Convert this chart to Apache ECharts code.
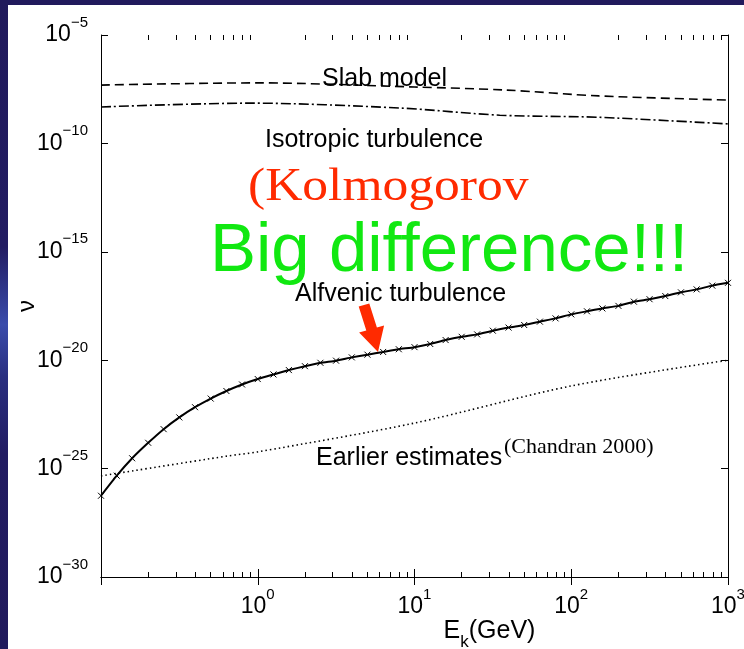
<!DOCTYPE html>
<html>
<head>
<meta charset="utf-8">
<script src="https://cdn.jsdelivr.net/npm/echarts@6/dist/echarts.min.js"></script>
<style>
  html, body { margin: 0; padding: 0; width: 744px; height: 649px; overflow: hidden;
    background: linear-gradient(to bottom, #211a5c 0%, #221c62 38%, #3a4cab 50%, #2a2f80 58%, #221c62 70%, #211a5c 100%); }
  #chart { position: absolute; left: 8px; top: 5px; width: 736px; height: 644px; background: #ffffff; }
</style>
</head>
<body>
<div id="chart"></div>
<script>
// ---- data ----
const energies = [0.1, 0.126, 0.158, 0.2, 0.251, 0.316, 0.398, 0.501, 0.631, 0.794,
  1, 1.26, 1.58, 2, 2.51, 3.16, 3.98, 5.01, 6.31, 7.94,
  10, 12.6, 15.8, 20, 25.1, 31.6, 39.8, 50.1, 63.1, 79.4,
  100, 126, 158, 200, 251, 316, 398, 501, 631, 794, 1000];
const alfvenic = [5.6e-27, 4.7e-26, 3.0e-25, 1.55e-24, 6.6e-24, 2.3e-23, 6.8e-23, 1.7e-22, 3.8e-22, 7.6e-22,
  1.35e-21, 2.2e-21, 3.5e-21, 5.3e-21, 7.6e-21, 9.5e-21, 1.35e-20, 1.8e-20, 2.4e-20, 3.2e-20,
  4.0e-20, 5.6e-20, 8.5e-20, 1.2e-19, 1.55e-19, 2.3e-19, 3.2e-19, 4.2e-19, 6.0e-19, 8.5e-19,
  1.3e-18, 1.8e-18, 2.45e-18, 3.2e-18, 5.0e-18, 6.5e-18, 9.1e-18, 1.35e-17, 1.85e-17, 2.75e-17, 3.7e-17];
const slabE = [0.1, 1, 10, 38, 150, 1000];
const slabV = [4.9e-8, 6.2e-8, 4.0e-8, 2.9e-8, 1.55e-8, 1.0e-8];
const isoE = [0.1, 0.9, 8, 35, 150, 1000];
const isoV = [4.8e-9, 7.2e-9, 4.3e-9, 2.0e-9, 1.6e-9, 7.9e-10];
const earlierE = [0.1, 0.64, 1, 10, 100, 1000];
const earlierV = [4.6e-26, 3.8e-25, 5.9e-25, 1.26e-23, 6.5e-22, 1.0e-20];

const xMajorTicks = [0.1, 1, 10, 100, 1000];
const xMinorTicks = [0.2, 0.3, 0.4, 0.5, 0.6, 0.7, 0.8, 0.9,
  2, 3, 4, 5, 6, 7, 8, 9, 20, 30, 40, 50, 60, 70, 80, 90,
  200, 300, 400, 500, 600, 700, 800, 900];
const xLabelValues = [1, 10, 100, 1000];
const yTickValues = [1e-30, 1e-25, 1e-20, 1e-15, 1e-10, 1e-5];

// ---- chart ----
const SANS = '"Liberation Sans", Arial, Helvetica, sans-serif';
const SERIF = '"Liberation Serif", "Times New Roman", serif';
const zip = (a, b) => a.map((v, i) => [v, b[i]]);
const powLabel = v => {
  const e = Math.round(Math.log10(v));
  return '{b|10}{s|' + (e < 0 ? '\u2212' + (-e) : e) + '}';
};
const richPow = {
  b: { fontSize: 23, fontFamily: SANS, color: '#000', lineHeight: 40, verticalAlign: 'middle' },
  s: { fontSize: 15, fontFamily: SANS, color: '#000', lineHeight: 15, verticalAlign: 'top' }
};
const gridRect = { left: 93, top: 30, width: 627, height: 542, containLabel: false, outerBoundsMode: 'none' };
const lineBlack = { color: '#000', width: 1 };

const chart = echarts.init(document.getElementById('chart'), null, { renderer: 'canvas' });
chart.setOption({
  animation: false,
  backgroundColor: '#ffffff',
  grid: [Object.assign({}, gridRect), Object.assign({}, gridRect)],
  xAxis: [
    { gridIndex: 0, type: 'log', logBase: 10, min: 0.1, max: 1000, position: 'bottom',
      name: '{e|E}{k|k}{e|(GeV)}', nameLocation: 'middle', nameGap: 42, nameMoveOverlap: false,
      nameTextStyle: { padding: [0, 0, 0, 150], rich: {
        e: { fontSize: 25, fontFamily: SANS, color: '#000', lineHeight: 26, verticalAlign: 'top' },
        k: { fontSize: 17, fontFamily: SANS, color: '#000', lineHeight: 32, verticalAlign: 'bottom' } } },
      axisLine: { show: true, lineStyle: lineBlack },
      axisTick: { show: true, inside: true, length: 8, lineStyle: lineBlack, customValues: xMajorTicks },
      axisLabel: { show: true, margin: 10, customValues: xLabelValues, formatter: powLabel, rich: richPow,
        showMinLabel: true, showMaxLabel: true },
      splitLine: { show: false }, minorTick: { show: false } },
    { gridIndex: 0, type: 'log', logBase: 10, min: 0.1, max: 1000, position: 'top',
      axisLine: { show: true, lineStyle: lineBlack },
      axisTick: { show: true, inside: true, length: 8, lineStyle: lineBlack, customValues: xMajorTicks },
      axisLabel: { show: false }, splitLine: { show: false } },
    { gridIndex: 1, type: 'log', logBase: 10, min: 0.1, max: 1000, position: 'bottom',
      axisLine: { show: false },
      axisTick: { show: true, inside: true, length: 5, lineStyle: lineBlack, customValues: xMinorTicks },
      axisLabel: { show: false }, splitLine: { show: false } },
    { gridIndex: 1, type: 'log', logBase: 10, min: 0.1, max: 1000, position: 'top',
      axisLine: { show: false },
      axisTick: { show: true, inside: true, length: 5, lineStyle: lineBlack, customValues: xMinorTicks },
      axisLabel: { show: false }, splitLine: { show: false } }
  ],
  yAxis: [
    { gridIndex: 0, type: 'log', logBase: 10, min: 1e-30, max: 1e-5, position: 'left',
      name: '\u03bd', nameLocation: 'middle', nameGap: 62, nameRotate: 90, nameMoveOverlap: false,
      nameTextStyle: { fontSize: 24, fontFamily: SANS, color: '#000' },
      axisLine: { show: true, lineStyle: lineBlack },
      axisTick: { show: true, inside: true, length: 7, lineStyle: lineBlack, customValues: yTickValues },
      axisLabel: { show: true, margin: 13, customValues: yTickValues, formatter: powLabel, rich: richPow,
        showMinLabel: true, showMaxLabel: true },
      splitLine: { show: false } },
    { gridIndex: 0, type: 'log', logBase: 10, min: 1e-30, max: 1e-5, position: 'right',
      axisLine: { show: true, lineStyle: lineBlack },
      axisTick: { show: true, inside: true, length: 7, lineStyle: lineBlack, customValues: yTickValues },
      axisLabel: { show: false }, splitLine: { show: false } },
    { gridIndex: 1, type: 'log', logBase: 10, min: 1e-30, max: 1e-5, show: false }
  ],
  series: [
    { name: 'Slab model', type: 'line', xAxisIndex: 0, yAxisIndex: 0, data: zip(slabE, slabV),
      showSymbol: false, smooth: 0.3, lineStyle: { color: '#000', width: 1.6, type: [9, 5] }, z: 3 },
    { name: 'Isotropic turbulence', type: 'line', xAxisIndex: 0, yAxisIndex: 0, data: zip(isoE, isoV),
      showSymbol: false, smooth: 0.3, lineStyle: { color: '#000', width: 1.6, type: [10, 3, 2, 3] }, z: 3 },
    { name: 'Earlier estimates', type: 'line', xAxisIndex: 0, yAxisIndex: 0, data: zip(earlierE, earlierV),
      showSymbol: false, smooth: 0.3, lineStyle: { color: '#000', width: 1.6, type: [1.5, 3] }, z: 3 },
    { name: 'Alfvenic turbulence', type: 'line', xAxisIndex: 0, yAxisIndex: 0, data: zip(energies, alfvenic),
      symbol: 'path://M0,0L10,10M10,0L0,10', symbolSize: 6, showSymbol: true, showAllSymbol: true,
      smooth: 0.15,
      itemStyle: { color: '#000', borderColor: '#000', borderWidth: 1 },
      lineStyle: { color: '#000', width: 2 }, z: 4 }
  ],
  graphic: [
    { type: 'text', left: 314, top: 62, style: { text: 'Slab model', font: '25px ' + SANS, fill: '#000' }, z: 10 },
    { type: 'text', left: 257, top: 123, style: { text: 'Isotropic turbulence', font: '25px ' + SANS, fill: '#000' }, z: 10 },
    { type: 'text', left: 240, top: 160, style: { text: '(Kolmogorov', font: '46px ' + SERIF, fill: '#ff2a00' }, scaleX: 1.12, z: 10 },
    { type: 'text', left: 202, top: 212, style: { text: 'Big difference!!!', font: '69px ' + SANS, fill: '#11e811' }, z: 10 },
    { type: 'text', left: 287, top: 277, style: { text: 'Alfvenic turbulence', font: '25px ' + SANS, fill: '#000' }, z: 10 },
    { type: 'text', left: 308, top: 441, style: { text: 'Earlier estimates', font: '25px ' + SANS, fill: '#000' }, z: 10 },
    { type: 'text', left: 496, top: 431, style: { text: '(Chandran 2000)', font: '22px ' + SERIF, fill: '#000' }, z: 10 },
    { type: 'polygon', z: 10, shape: { points: [
        [350.7, 301.5], [361.3, 298.5], [368.9, 322.4], [376.1, 320.4], [370, 347],
        [351.1, 327.4], [358.3, 325.4] ] },
      style: { fill: '#ff2a00' } }
  ]
});
</script>
</body>
</html>
